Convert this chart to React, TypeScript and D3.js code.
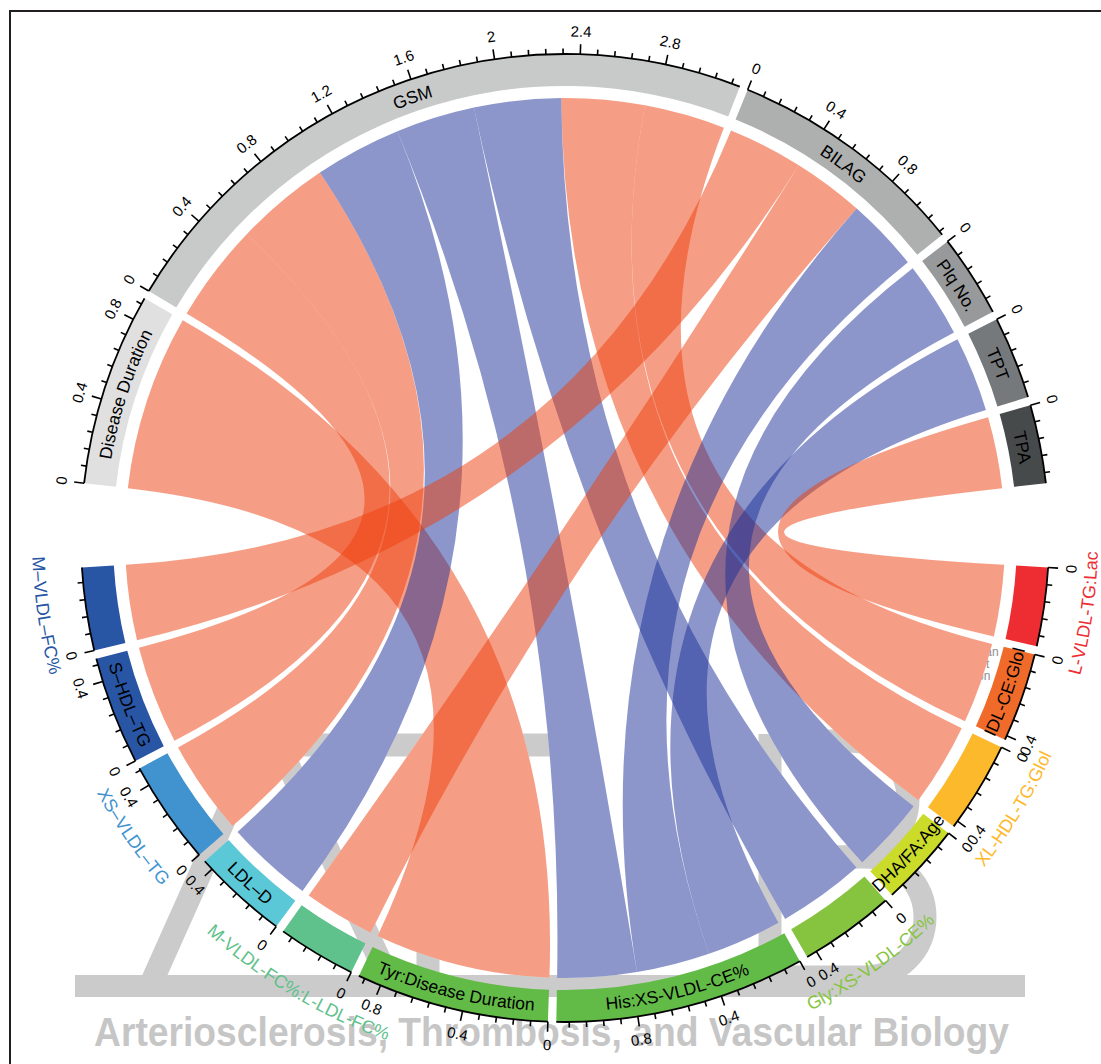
import React, { useMemo } from "react";
import * as d3 from "d3";

// Clinical variables on the upper half of the ring
const topSectors = ["Disease Duration", "GSM", "BILAG", "Plq No.", "TPT", "TPA"];
const topColors = ["#E0E0E0", "#C8C9C9", "#AEB0B0", "#98999A", "#76797B", "#464A4B"];

// Metabolic features on the lower half of the ring
const bottomSectors = [
  "L-VLDL-TG:Lac",
  "IDL-CE:Glol",
  "XL-HDL-TG:Glol",
  "DHA/FA:Age",
  "Gly:XS-VLDL-CE%",
  "His:XS-VLDL-CE%",
  "Tyr:Disease Duration",
  "M-VLDL-FC%:L-LDL-FC%",
  "LDL–D",
  "XS–VLDL–TG",
  "S–HDL–TG",
  "M–VLDL–FC%",
];
const bottomColors = [
  "#EE2D32", "#F06B2A", "#FDB92C", "#CBDB2A", "#86C440", "#63BB47",
  "#63BB47", "#5FC18B", "#5BC8D7", "#4193D0", "#2856A5", "#2856A5",
];
// labels written outside the ring, in the track colour
const bottomLabelOutside = [true, false, true, false, true, false, false, true, false, true, false, true];

// Associations: clinical variable, metabolic feature, signed coefficient
const linkFrom = [
  "Disease Duration", "GSM", "GSM", "GSM", "GSM", "GSM", "GSM", "GSM",
  "BILAG", "BILAG", "BILAG", "Plq No.", "TPT", "TPA",
];
const linkTo = [
  "Tyr:Disease Duration", "S–HDL–TG", "XS–VLDL–TG", "LDL–D", "His:XS-VLDL-CE%",
  "Gly:XS-VLDL-CE%", "XL-HDL-TG:Glol", "IDL-CE:Glol", "M–VLDL–FC%",
  "M-VLDL-FC%:L-LDL-FC%", "His:XS-VLDL-CE%", "DHA/FA:Age", "His:XS-VLDL-CE%", "L-VLDL-TG:Lac",
];
const linkValue = [0.91, 0.51, 0.49, -0.45, -0.41, -0.45, 0.43, 0.42, 0.39, 0.37, -0.38, -0.39, -0.39, 0.37];

// geometry
const W = 1101;
const H = 1064;
const CX = 565;
const CY = 538;
const R_CHORD = 440;
const R_IN = 452;
const R_OUT = 484;
const START_DEG = 276.5;
const GAP_DEG = 1;
const BIG_GAP_DEG = 10;
const MAJOR_EVERY = 5;
const MINOR_STEP = 0.08;
const POS_COLOR = "#ED3E0C";
const NEG_COLOR = "#192D97";
const FONT = "'Liberation Sans', Arial, Helvetica, sans-serif";
const WM = "#CBCBCB";

const rad = (deg: number) => (deg * Math.PI) / 180;
const pt = (r: number, deg: number): [number, number] => [r * Math.sin(rad(deg)), -r * Math.cos(rad(deg))];
const norm = (deg: number) => {
  let t = ((deg % 360) + 360) % 360;
  if (t > 180) t -= 360;
  return t;
};

function arcStroke(r: number, a0: number, a1: number, ccw: boolean) {
  const p = d3.path();
  const s = rad(a0 - 90);
  const e = rad(a1 - 90);
  p.moveTo(r * Math.cos(s), r * Math.sin(s));
  p.arc(0, 0, r, s, e, ccw);
  return p.toString();
}

type Sector = {
  name: string;
  side: "top" | "bottom";
  size: number;
  color: string;
  a0: number;
  a1: number;
  scale: d3.ScaleLinear<number, number>;
  outside: boolean;
};

export default function App() {
  const layout = useMemo(() => {
    const topIdx = new Map(topSectors.map((n, i) => [n, i]));
    const botIdx = new Map(bottomSectors.map((n, i) => [n, i]));
    const topSize = topSectors.map((n) => d3.sum(linkFrom.map((f, i) => (f === n ? Math.abs(linkValue[i]) : 0))));
    const botSize = bottomSectors.map((n) => d3.sum(linkTo.map((t, i) => (t === n ? Math.abs(linkValue[i]) : 0))));
    const nGaps = topSectors.length - 1 + bottomSectors.length - 1;
    const degPerUnit = (360 - nGaps * GAP_DEG - 2 * BIG_GAP_DEG) / (d3.sum(topSize) + d3.sum(botSize));

    const sectors: Sector[] = [];
    let cursor = START_DEG;
    const place = (names: string[], sizes: number[], colors: string[], side: "top" | "bottom") => {
      names.forEach((name, i) => {
        const a0 = cursor;
        const a1 = cursor + sizes[i] * degPerUnit;
        sectors.push({
          name,
          side,
          size: sizes[i],
          color: colors[i],
          a0,
          a1,
          scale: d3.scaleLinear().domain([0, sizes[i]]).range([a0, a1]),
          outside: side === "bottom" ? bottomLabelOutside[i] : false,
        });
        cursor = a1 + (i === names.length - 1 ? BIG_GAP_DEG : GAP_DEG);
      });
    };
    place(topSectors, topSize, topColors, "top");
    place(bottomSectors, botSize, bottomColors, "bottom");
    const topSec = sectors.slice(0, topSectors.length);
    const botSec = sectors.slice(topSectors.length);

    // order links inside every sector by the partner's position (later partners first)
    const src: { s: number; e: number }[] = [];
    const tgt: { s: number; e: number }[] = [];
    topSectors.forEach((n) => {
      let c = 0;
      d3.range(linkValue.length)
        .filter((i) => linkFrom[i] === n)
        .sort((a, b) => (botIdx.get(linkTo[b]) as number) - (botIdx.get(linkTo[a]) as number))
        .forEach((i) => {
          const w = Math.abs(linkValue[i]);
          src[i] = { s: c, e: c + w };
          c += w;
        });
    });
    bottomSectors.forEach((n) => {
      let c = 0;
      d3.range(linkValue.length)
        .filter((i) => linkTo[i] === n)
        .sort((a, b) => (topIdx.get(linkFrom[b]) as number) - (topIdx.get(linkFrom[a]) as number))
        .forEach((i) => {
          const w = Math.abs(linkValue[i]);
          tgt[i] = { s: c, e: c + w };
          c += w;
        });
    });

    const ribbon = d3.ribbon<any, any>().radius(R_CHORD);
    const links = linkValue.map((v, i) => {
      const ts = topSec[topIdx.get(linkFrom[i]) as number];
      const bs = botSec[botIdx.get(linkTo[i]) as number];
      const d = ribbon({
        source: { startAngle: rad(ts.scale(src[i].s)), endAngle: rad(ts.scale(src[i].e)) },
        target: { startAngle: rad(bs.scale(tgt[i].s)), endAngle: rad(bs.scale(tgt[i].e)) },
      }) as unknown as string;
      return { d, color: v >= 0 ? POS_COLOR : NEG_COLOR };
    });
    return { sectors, links };
  }, []);

  const arc = d3.arc<any>().innerRadius(R_IN).outerRadius(R_OUT);

  return (
    <svg
      width={W}
      height={H}
      viewBox={`0 0 ${W} ${H}`}
      style={{ position: "fixed", left: 0, top: 0, background: "#fff" }}
      fontFamily={FONT}
    >
      <rect width={W} height={H} fill="#fff" />
      <path d={`M10,${H} V11 H${W}`} fill="none" stroke="#231F20" strokeWidth={2} />

      {/* journal watermark */}
      <g fill="none" stroke={WM} strokeWidth={23} strokeLinejoin="miter">
        <path d="M150,986 L268,722 L392,986" />
        <path d="M205,745 L565,745" />
        <path d="M428,745 L428,986" />
        <path d="M770,734 V986" />
        <path d="M770,741 H850 A58,58 0 0 1 850,857 H770" />
        <path d="M770,857 H865 A60,60 0 0 1 865,977 H770" />
      </g>
      <rect x={75} y={975} width={950} height={22} fill={WM} />
      <text
        x={94}
        y={1046}
        fontSize={41}
        fontWeight="bold"
        fill="#C6C6C6"
        textLength={915}
        lengthAdjust="spacingAndGlyphs"
      >
        Arteriosclerosis, Thrombosis, and Vascular Biology
      </text>
      <g fill="#8E8E8E" fontSize={12}>
        <text x={948} y={656}>American</text>
        <text x={960} y={668}>Heart</text>
        <text x={929} y={680}>Association</text>
      </g>

      <g transform={`translate(${CX},${CY})`}>
        {/* opaque backing so the watermark stays behind the links */}
        {layout.links.map((l, i) => (
          <path key={`w${i}`} d={l.d} fill="#fff" />
        ))}
        {layout.links.map((l, i) => (
          <path key={`l${i}`} d={l.d} fill={l.color} fillOpacity={0.5} />
        ))}

        {/* sector tracks */}
        {layout.sectors.map((s, i) => (
          <path key={`s${i}`} d={arc({ startAngle: rad(s.a0), endAngle: rad(s.a1) }) as string} fill={s.color} />
        ))}

        {/* axes */}
        {layout.sectors.map((s, i) => {
          const n = Math.floor(s.size / MINOR_STEP + 1e-6);
          const ticks = d3.range(n + 1).map((k) => ({ v: k * MINOR_STEP, major: k % MAJOR_EVERY === 0 }));
          return (
            <g key={`a${i}`}>
              <path d={arcStroke(R_OUT, s.a0, s.a1, false)} fill="none" stroke="#000" strokeWidth={1.8} />
              {ticks.map((t, j) => {
                const a = s.scale(t.v);
                const [x1, y1] = pt(R_OUT, a);
                const [x2, y2] = pt(R_OUT + (t.major ? 10 : 5.5), a);
                return <line key={j} x1={x1} y1={y1} x2={x2} y2={y2} stroke="#000" strokeWidth={1.6} />;
              })}
              {ticks
                .filter((t) => t.major)
                .map((t, j) => {
                  const a = s.scale(t.v);
                  const [x, y] = pt(507, a);
                  const rot = s.side === "top" ? norm(a) : norm(a) - 180;
                  return (
                    <text
                      key={`t${j}`}
                      transform={`translate(${x},${y}) rotate(${rot})`}
                      textAnchor="middle"
                      dominantBaseline="central"
                      fontSize={15}
                      fill="#000"
                    >
                      {String(Math.round(t.v * 10) / 10)}
                    </text>
                  );
                })}
            </g>
          );
        })}

        {/* sector names */}
        {layout.sectors.map((s, i) => {
          const mid = (s.a0 + s.a1) / 2;
          const id = `lab${i}`;
          let d: string;
          if (s.side === "top") d = arcStroke(460.5, mid - 70, mid + 70, false);
          else if (s.outside) d = arcStroke(533, mid + 80, mid - 80, true);
          else d = arcStroke(473.5, mid + 70, mid - 70, true);
          return (
            <g key={id}>
              <path id={id} d={d} fill="none" stroke="none" />
              <text fontSize={s.outside ? 18 : 17.5} fill={s.outside ? s.color : "#000"}>
                <textPath href={`#${id}`} startOffset="50%" textAnchor="middle">
                  {s.name}
                </textPath>
              </text>
            </g>
          );
        })}
      </g>
    </svg>
  );
}
